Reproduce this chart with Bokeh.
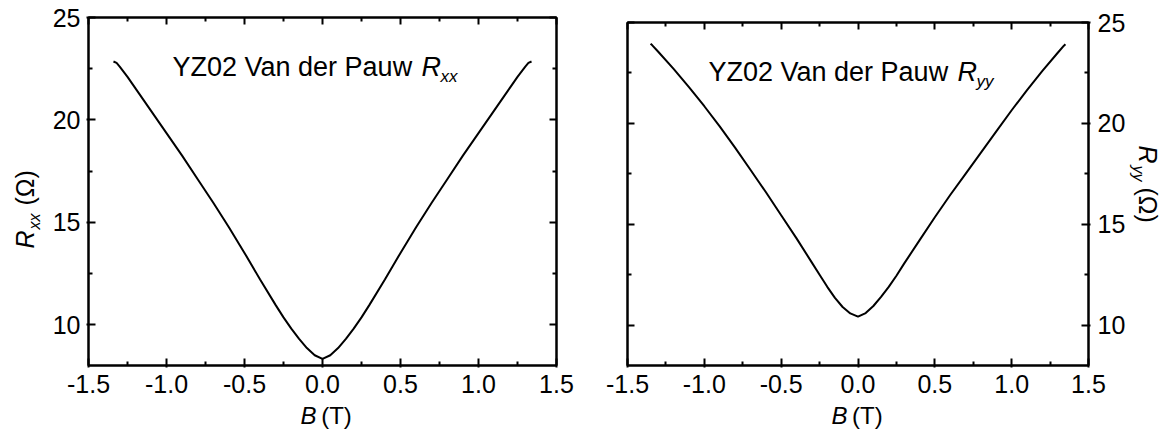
import math
from bokeh.plotting import figure
from bokeh.layouts import row, column
from bokeh.models import Range1d, LinearAxis, Label, FixedTicker, CustomJSTickFormatter
from bokeh.embed import file_html
from bokeh.resources import INLINE

# ---------------- data ----------------
b_xx = [-1.34, -1.32, -1.30, -1.25, -1.20, -1.10, -1.00, -0.90, -0.80, -0.70, -0.60,
        -0.50, -0.40, -0.30, -0.25, -0.20, -0.15, -0.10, -0.05, 0.00,
        0.05, 0.10, 0.15, 0.20, 0.25, 0.30, 0.40, 0.50, 0.60, 0.70, 0.80,
        0.90, 1.00, 1.10, 1.20, 1.25, 1.30, 1.32, 1.34]
r_xx = [22.85, 22.78, 22.60, 22.10, 21.55, 20.45, 19.35, 18.25, 17.10, 15.95, 14.75,
        13.50, 12.20, 10.95, 10.35, 9.80, 9.30, 8.85, 8.50, 8.32,
        8.50, 8.85, 9.30, 9.80, 10.35, 10.95, 12.20, 13.50, 14.75, 15.95, 17.10,
        18.25, 19.35, 20.45, 21.55, 22.10, 22.60, 22.78, 22.85]

b_yy = [-1.35, -1.34, -1.30, -1.20, -1.10, -1.00, -0.90, -0.80, -0.70, -0.60, -0.50,
        -0.40, -0.30, -0.25, -0.20, -0.15, -0.10, -0.05, 0.00,
        0.05, 0.10, 0.15, 0.20, 0.25, 0.30, 0.40, 0.50, 0.60, 0.70, 0.80,
        0.90, 1.00, 1.10, 1.20, 1.30, 1.34, 1.35]
r_yy = [23.95, 23.88, 23.55, 22.70, 21.80, 20.85, 19.85, 18.80, 17.70, 16.60, 15.45,
        14.30, 13.10, 12.50, 11.90, 11.35, 10.90, 10.58, 10.42,
        10.60, 10.95, 11.40, 11.90, 12.45, 13.05, 14.20, 15.35, 16.45, 17.50, 18.55,
        19.60, 20.65, 21.65, 22.60, 23.50, 23.85, 23.92]

x_ticks = [-1.5, -1.0, -0.5, 0.0, 0.5, 1.0, 1.5]
x_tick_labels = ["-1.5", "-1.0", "-0.5", "0.0", "0.5", "1.0", "1.5"]
x_minor = [-1.25, -0.75, -0.25, 0.25, 0.75, 1.25]
y_ticks = [10, 15, 20, 25]
y_tick_labels = ["10", "15", "20", "25"]
y_minor = [12.5, 17.5, 22.5]

title_prefix = "YZ02 Van der Pauw"
sub_left = "xx"
sub_right = "yy"
unit_ohm = "(\u03a9)"
unit_tesla = "(T)"

FONT = "Liberation Sans"
TICK_SIZE = "25px"


def style_axis(ax, ticks, minor, labels=None, standoff=5):
    ax.ticker = FixedTicker(ticks=ticks, minor_ticks=minor)
    ax.axis_line_color = "black"
    ax.axis_line_width = 2
    ax.major_tick_line_color = "black"
    ax.major_tick_line_width = 2
    ax.major_tick_in = 7
    ax.major_tick_out = 2
    ax.minor_tick_line_color = "black"
    ax.minor_tick_line_width = 2
    ax.minor_tick_in = 4
    ax.minor_tick_out = 0
    if labels is not None:
        ax.major_label_overrides = {t: l for t, l in zip(ticks, labels)}
        ax.major_label_text_font = FONT
        ax.major_label_text_font_size = TICK_SIZE
        ax.major_label_text_color = "black"
        ax.major_label_standoff = standoff
    else:
        ax.formatter = CustomJSTickFormatter(code="return ''")
        ax.major_label_standoff = 0
        ax.major_tick_out = 0


def make_panel(width, height, bl, br, bt, bb, y_side):
    p = figure(width=width, height=height, x_range=Range1d(-1.5, 1.5), y_range=Range1d(8, 25),
               output_backend="svg", toolbar_location=None, tools="", title_location=None,
               x_axis_location=None, y_axis_location=None,
               min_border_left=bl, min_border_right=br, min_border_top=bt, min_border_bottom=bb)
    p.grid.grid_line_color = None
    p.outline_line_color = "black"
    p.outline_line_width = 2
    p.background_fill_color = "white"
    p.border_fill_color = "white"

    bottom = LinearAxis()
    style_axis(bottom, x_ticks, x_minor, x_tick_labels, standoff=7)
    p.add_layout(bottom, "below")
    top = LinearAxis()
    style_axis(top, x_ticks, x_minor)
    p.add_layout(top, "above")

    left = LinearAxis()
    right = LinearAxis()
    if y_side == "left":
        style_axis(left, y_ticks, y_minor, y_tick_labels, standoff=6)
        style_axis(right, y_ticks, y_minor)
    else:
        style_axis(left, y_ticks, y_minor)
        style_axis(right, y_ticks, y_minor, y_tick_labels, standoff=7)
    p.add_layout(left, "left")
    p.add_layout(right, "right")
    return p


def strip(width, height):
    """A bare figure used only to hold axis-title texts (its frame fills it)."""
    s = figure(width=width, height=height, x_range=Range1d(0, width), y_range=Range1d(0, height),
               output_backend="svg", toolbar_location=None, tools="", title_location=None,
               x_axis_location=None, y_axis_location=None,
               min_border_left=0, min_border_right=0, min_border_top=0, min_border_bottom=0)
    s.grid.grid_line_color = None
    s.outline_line_color = None
    s.background_fill_color = "white"
    s.border_fill_color = "white"
    return s


def txt(p, x, y, text, size, italic=False, angle=0.0, units="screen"):
    # the rendered glyphs sit about a third of an em below the requested
    # baseline, so move the anchor back along the glyphs' "up" direction
    off = 0.34 * size
    x = x - off * math.sin(angle)
    y = y + off * math.cos(angle)
    p.add_layout(Label(x=x, y=y, x_units=units, y_units=units, text=text,
                       text_font=FONT, text_font_size=f"{size}px",
                       text_font_style="italic" if italic else "normal",
                       text_color="black", angle=angle,
                       text_align="left", text_baseline="alphabetic"))


PH = 401          # height of each plot panel
SH = 429 - PH     # height of the x-title strips

# ---------------- left panel ----------------
p1 = make_panel(545, PH, 43, 34, 17, PH - 365, "left")
p1.line(b_xx, r_xx, line_color="black", line_width=2)
txt(p1, 84, 289, title_prefix, 27)
txt(p1, 333, 289, "R", 27, italic=True)
txt(p1, 352, 283, sub_left, 17, italic=True)

# y title strip on the left (data units = pixels, y upward from bottom)
yl1 = strip(45, 429)
txt(yl1, 33, 181, "R", 25, italic=True, angle=math.pi / 2, units="data")
txt(yl1, 39, 200, sub_left, 16, italic=True, angle=math.pi / 2, units="data")
txt(yl1, 33, 224, unit_ohm, 25, angle=math.pi / 2, units="data")

# x title strip below left panel
xl1 = strip(545, SH)
txt(xl1, 247, 6, "B", 24, italic=True, units="data")
txt(xl1, 271, 6, unit_tesla, 24, units="data")

# ---------------- right panel ----------------
p2 = make_panel(538, PH, 37, 40, 22, PH - 365, "right")
p2.line(b_yy, r_yy, line_color="black", line_width=2)
txt(p2, 81, 284, title_prefix, 27)
txt(p2, 330, 284, "R", 27, italic=True)
txt(p2, 349, 278, sub_right, 17, italic=True)

xl2 = strip(538, SH)
txt(xl2, 238, 6, "B", 24, italic=True, units="data")
txt(xl2, 262, 6, unit_tesla, 24, units="data")

yl2 = strip(46, 429)
txt(yl2, 11, 284, "R", 25, italic=True, angle=-math.pi / 2, units="data")
txt(yl2, 5, 264, sub_right, 16, italic=True, angle=-math.pi / 2, units="data")
txt(yl2, 11, 242, unit_ohm, 25, angle=-math.pi / 2, units="data")

layout = row(yl1, column(p1, xl1), column(p2, xl2), yl2)
with open("out.html", "w") as f:
    f.write(file_html(layout, INLINE))
